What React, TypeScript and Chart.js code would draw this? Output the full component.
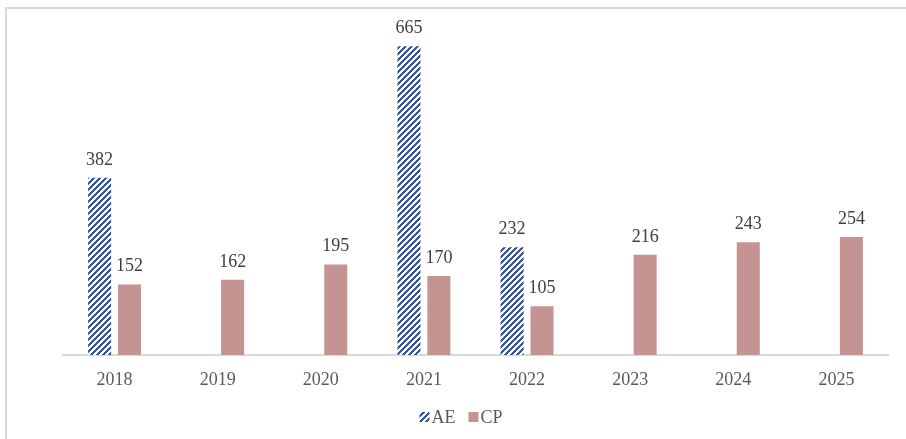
import React, { useEffect, useRef } from "react";
import { Chart, registerables } from "chart.js";

Chart.register(...registerables);

const categories = ["2018", "2019", "2020", "2021", "2022", "2023", "2024", "2025"];
const aeValues: (number | null)[] = [382, null, null, 665, 232, null, null, null];
const cpValues: (number | null)[] = [152, 162, 195, 170, 105, 216, 243, 254];
const seriesNames = ["AE", "CP"];

const BLUE = "#3A5599";
const PINK = "#C59492";
const FONT = "'Liberation Serif', 'Times New Roman', serif";

function makeHatch(): CanvasPattern | string {
  const c = document.createElement("canvas");
  const size = 6;
  c.width = size;
  c.height = size;
  const ctx = c.getContext("2d");
  if (!ctx) return BLUE;
  const img = ctx.createImageData(size, size);
  for (let y = 0; y < size; y++) {
    for (let x = 0; x < size; x++) {
      const i = (y * size + x) * 4;
      const on = (x + y) % size < 3;
      img.data[i] = on ? 0x3a : 255;
      img.data[i + 1] = on ? 0x55 : 255;
      img.data[i + 2] = on ? 0x99 : 255;
      img.data[i + 3] = 255;
    }
  }
  ctx.putImageData(img, 0, 0);
  const p = ctx.createPattern(c, "repeat");
  return p || BLUE;
}

const valueLabels = {
  id: "valueLabels",
  afterDatasetsDraw(chart: any) {
    const ctx = chart.ctx;
    ctx.save();
    ctx.font = `18px ${FONT}`;
    ctx.fillStyle = "#404040";
    ctx.textAlign = "center";
    ctx.textBaseline = "alphabetic";
    chart.data.datasets.forEach((ds: any, di: number) => {
      const meta = chart.getDatasetMeta(di);
      meta.data.forEach((el: any, i: number) => {
        const v = ds.data[i];
        if (v === null || v === undefined) return;
        ctx.fillText(String(v), el.x, el.y - 13);
      });
    });
    ctx.restore();
  },
};

const customLegend = {
  id: "customLegend",
  afterDraw(chart: any) {
    const ctx = chart.ctx;
    ctx.save();
    ctx.font = `18px ${FONT}`;
    ctx.textBaseline = "middle";
    ctx.textAlign = "left";
    const box = 10;
    const gapText = 2;
    const gapItem = 13;
    const items = chart.data.datasets.map((ds: any) => ({
      label: ds.label,
      fill: ds.backgroundColor,
      w: ctx.measureText(ds.label).width,
    }));
    let total = 0;
    items.forEach((it: any, i: number) => {
      total += box + gapText + it.w + (i < items.length - 1 ? gapItem : 0);
    });
    const cy = 417;
    let x = 461 - total / 2;
    items.forEach((it: any) => {
      ctx.fillStyle = it.fill;
      ctx.fillRect(x, cy - box / 2, box, box);
      x += box + gapText;
      ctx.fillStyle = "#595959";
      ctx.fillText(it.label, x, cy + 1);
      x += it.w + gapItem;
    });
    ctx.restore();
  },
};

export default function App() {
  const ref = useRef<HTMLCanvasElement | null>(null);

  useEffect(() => {
    document.body.style.margin = "0";
    if (!ref.current) return;
    const hatch = makeHatch();
    const chart = new Chart(ref.current, {
      type: "bar",
      data: {
        labels: categories,
        datasets: [
          {
            label: seriesNames[0],
            data: aeValues,
            backgroundColor: hatch as any,
            borderWidth: 0,
          },
          {
            label: seriesNames[1],
            data: cpValues,
            backgroundColor: PINK,
            borderWidth: 0,
          },
        ],
      },
      options: {
        animation: false,
        responsive: false,
        maintainAspectRatio: false,
        datasets: {
          bar: {
            categoryPercentage: 0.58,
            barPercentage: 0.77,
          },
        },
        layout: {
          padding: { left: 63, right: 18, top: 30, bottom: 44 },
        },
        plugins: {
          legend: { display: false },
          tooltip: { enabled: false },
        },
        scales: {
          x: {
            grid: { display: false },
            border: { display: true, color: "#D9D9D9", width: 2 },
            ticks: {
              color: "#595959",
              font: { family: FONT, size: 18 },
              padding: 6,
              maxRotation: 0,
            },
            afterFit(scale: any) {
              scale.height = 40;
            },
          },
          y: {
            display: false,
            min: 0,
            max: 700,
          },
        },
      },
      plugins: [valueLabels, customLegend],
    });
    return () => chart.destroy();
  }, []);

  return (
    <div style={{ position: "relative", width: 906, height: 439, overflow: "hidden", background: "#fff" }}>
      <div
        style={{
          position: "absolute",
          left: 5,
          top: 7,
          width: 960,
          height: 500,
          border: "2px solid #D9D9D9",
          boxSizing: "border-box",
        }}
      />
      <canvas ref={ref} width={906} height={439} style={{ position: "absolute", left: 0, top: 0, display: "block" }} />
    </div>
  );
}
